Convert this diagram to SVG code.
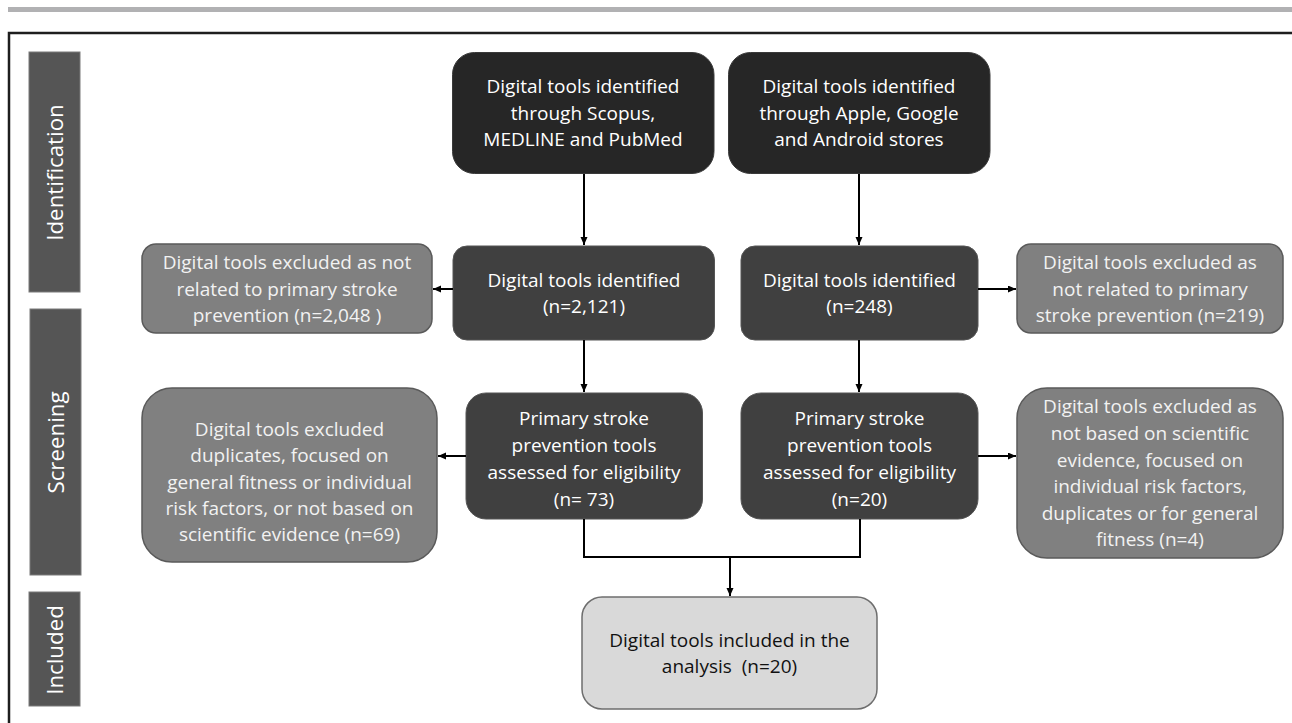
<svg xmlns="http://www.w3.org/2000/svg" width="1292" height="723" viewBox="0 0 1292 723">
<defs>
<marker id="ah" markerUnits="userSpaceOnUse" markerWidth="9" markerHeight="8" refX="8" refY="3.5" orient="auto">
<path d="M0,0 L8,3.5 L0,7 z" fill="#000"/>
</marker>
<style>
text{font-family:"Open Sans","Liberation Sans",sans-serif;font-size:19px;text-anchor:middle;white-space:pre}
.lab rect{fill:#555;stroke:#7a7a7a;stroke-width:1}
.lab text{fill:#fff;font-size:22.3px}
.top rect{fill:#262626;stroke:#3a3a3a;stroke-width:1}
.dk rect{fill:#404040;stroke:#555;stroke-width:1}
.top text,.dk text{fill:#fff}
.ex rect{fill:#808080;stroke:#5a5a5a;stroke-width:1.5}
.ex text{fill:#f2f2f2}
.fin rect{fill:#d9d9d9;stroke:#6e6e6e;stroke-width:1.5}
.fin text{fill:#111}
.con path{fill:none;stroke:#000;stroke-width:2}
</style>
</defs>
<rect x="8" y="7" width="1284" height="5" fill="#b1b1b3"/>
<path d="M9 723 V33 H1292" fill="none" stroke="#1e1e1e" stroke-width="2.5"/>

<g id="lab-identification" class="lab"><rect x="29" y="52" width="51" height="240"/><text transform="translate(62.5,172.5) rotate(-90)">Identification</text></g>
<g id="lab-screening" class="lab"><rect x="30" y="309" width="51" height="266"/><text transform="translate(63.5,442.5) rotate(-90)">Screening</text></g>
<g id="lab-included" class="lab"><rect x="29" y="592" width="51" height="114"/><text transform="translate(62.5,650) rotate(-90)">Included</text></g>

<g id="n-scopus" class="top"><rect x="452.5" y="52.5" width="261.5" height="121" rx="22"/>
<text x="583" y="93">Digital tools identified</text><text x="583" y="119.5">through Scopus,</text><text x="583" y="146">MEDLINE and PubMed</text></g>
<g id="n-stores" class="top"><rect x="728.5" y="52.5" width="261.5" height="121" rx="22"/>
<text x="859" y="93">Digital tools identified</text><text x="859" y="119.5">through Apple, Google</text><text x="859" y="146">and Android stores</text></g>

<g id="n-id1" class="dk"><rect x="453" y="246" width="261.5" height="94" rx="14"/>
<text x="584" y="287">Digital tools identified</text><text x="584" y="313">(n=2,121)</text></g>
<g id="n-id2" class="dk"><rect x="741" y="246" width="237" height="94" rx="14"/>
<text x="859.5" y="287">Digital tools identified</text><text x="859.5" y="313">(n=248)</text></g>

<g id="n-ex1" class="ex"><rect x="142" y="244" width="290" height="89" rx="14"/>
<text x="287" y="269">Digital tools excluded as not</text><text x="287" y="295.5">related to primary stroke</text><text x="287" y="322">prevention (n=2,048 )</text></g>
<g id="n-ex2" class="ex"><rect x="1017" y="244" width="266" height="89" rx="14"/>
<text x="1150" y="269">Digital tools excluded as</text><text x="1150" y="295.5">not related to primary</text><text x="1150" y="322">stroke prevention (n=219)</text></g>

<g id="n-el1" class="dk"><rect x="466" y="393" width="236.5" height="126" rx="20"/>
<text x="584" y="425">Primary stroke</text><text x="584" y="452">prevention tools</text><text x="584" y="479">assessed for eligibility</text><text x="584" y="506">(n= 73)</text></g>
<g id="n-el2" class="dk"><rect x="741" y="393" width="237" height="126" rx="20"/>
<text x="859.5" y="425">Primary stroke</text><text x="859.5" y="452">prevention tools</text><text x="859.5" y="479">assessed for eligibility</text><text x="859.5" y="506">(n=20)</text></g>

<g id="n-ex3" class="ex"><rect x="142" y="388" width="295" height="174" rx="30"/>
<text x="289.5" y="436">Digital tools excluded</text><text x="289.5" y="462">duplicates, focused on</text><text x="289.5" y="488.5">general fitness or individual</text><text x="289.5" y="515">risk factors, or not based on</text><text x="289.5" y="541">scientific evidence (n=69)</text></g>
<g id="n-ex4" class="ex"><rect x="1017" y="388" width="266" height="170" rx="30"/>
<text x="1150" y="413">Digital tools excluded as</text><text x="1150" y="440">not based on scientific</text><text x="1150" y="467">evidence, focused on</text><text x="1150" y="493">individual risk factors,</text><text x="1150" y="520">duplicates or for general</text><text x="1150" y="546">fitness (n=4)</text></g>

<g id="n-final" class="fin"><rect x="582" y="597" width="295" height="112" rx="20"/>
<text x="729.5" y="647">Digital tools included in the</text><text x="729.5" y="673">analysis  (n=20)</text></g>

<g id="connectors" class="con">
<path d="M584 174 V245" marker-end="url(#ah)"/>
<path d="M859 174 V245" marker-end="url(#ah)"/>
<path d="M453 289 H433" marker-end="url(#ah)"/>
<path d="M978 289 H1016" marker-end="url(#ah)"/>
<path d="M584 340 V392" marker-end="url(#ah)"/>
<path d="M859 340 V392" marker-end="url(#ah)"/>
<path d="M466 456 H438" marker-end="url(#ah)"/>
<path d="M978 456 H1016" marker-end="url(#ah)"/>
<path d="M584 519 V557 H860 V519"/>
<path d="M730 557 V596" marker-end="url(#ah)"/>
</g>
</svg>
